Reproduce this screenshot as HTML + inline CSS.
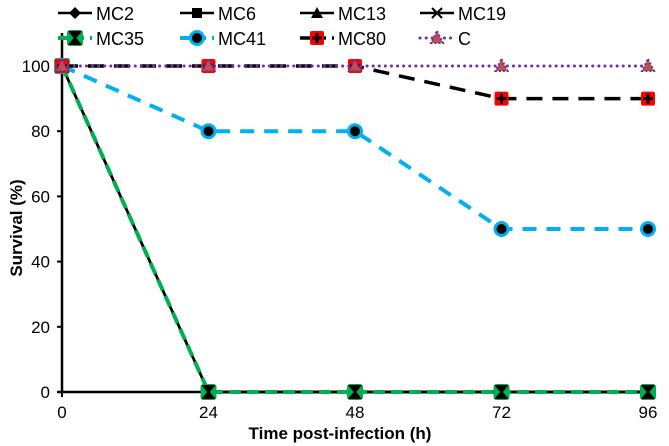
<!DOCTYPE html>
<html><head><meta charset="utf-8"><style>
html,body{margin:0;padding:0;background:#fff;}
svg{display:block;font-family:"Liberation Sans",Arial,sans-serif;}
</style></head><body>
<svg id="chart" width="669" height="446" viewBox="0 0 669 446"></svg>
<script>
const hours = [0, 24, 48, 72, 96];
const yTicks = [0, 20, 40, 60, 80, 100];
const mc2 = [100, 0, 0, 0, 0];
const mc6 = [100, 0, 0, 0, 0];
const mc13 = [100, 0, 0, 0, 0];
const mc19 = [100, 0, 0, 0, 0];
const mc35 = [100, 0, 0, 0, 0];
const mc41 = [100, 80, 80, 50, 50];
const mc80 = [100, 100, 100, 90, 90];
const ctrl = [100, 100, 100, 100, 100];

const NS = "http://www.w3.org/2000/svg";
const svg = document.getElementById("chart");
const X0 = 62, X1 = 648, Y0 = 392, Y100 = 66;
const xs = h => X0 + (X1 - X0) * h / 96;
const ys = v => Y0 - (Y0 - Y100) * v / 100;
function mk(tag, attrs, parent) {
  const e = document.createElementNS(NS, tag);
  for (const k in attrs) e.setAttribute(k, attrs[k]);
  (parent || svg).appendChild(e);
  return e;
}
function txt(x, y, s, attrs, parent) {
  const t = mk("text", Object.assign({x: x, y: y, "font-size": 18, fill: "#000", transform: ""}, attrs || {}), parent);
  t.textContent = s;
  return t;
}
const axY = mk("line", {x1: X0, y1: 33, x2: X0, y2: Y0 + 1, stroke: "#000", "stroke-width": 2.5});


const axX = mk("line", {x1: X0 - 5, y1: Y0, x2: X1 + 2, y2: Y0, stroke: "#000", "stroke-width": 2.5});


yTicks.forEach(v => {
  mk("line", {x1: X0 - 5, y1: ys(v), x2: X0, y2: ys(v), stroke: "#000", "stroke-width": 2});
  const t = txt(50, ys(v) + 6, String(v), {"text-anchor": "end", "font-size": 17});
  
  
});
hours.forEach(h => {
  mk("line", {x1: xs(h), y1: Y0, x2: xs(h), y2: Y0 + 5, stroke: "#000", "stroke-width": 2});
  const t = txt(xs(h), 418, String(h), {"text-anchor": "middle", "font-size": 17});
  
  
});
const xt = txt(340, 439, "Time post-infection (h)", {"text-anchor": "middle", "font-weight": "bold", "font-size": 17});


const yt = txt(0, 0, "Survival (%)", {"text-anchor": "middle", "font-weight": "bold", "font-size": 17, transform: "translate(22,228) rotate(-90)"});



function marker(kind, x, y, g) {
  if (kind === "diamond") mk("path", {d: `M${x} ${y-6}L${x+6} ${y}L${x} ${y+6}L${x-6} ${y}Z`, fill: "#000"}, g);
  else if (kind === "square") mk("rect", {x: x-5, y: y-5, width: 10, height: 10, fill: "#000"}, g);
  else if (kind === "tri") mk("path", {d: `M${x} ${y-6}L${x+6} ${y+5}L${x-6} ${y+5}Z`, fill: "#000"}, g);
  else if (kind === "x") mk("path", {d: `M${x-5} ${y-5}L${x+5} ${y+5}M${x+5} ${y-5}L${x-5} ${y+5}`, stroke: "#000", "stroke-width": 2}, g);
  else if (kind === "green") {
    mk("rect", {x: x-8, y: y-8, width: 16, height: 16, rx: 3, fill: "#00b050"}, g);
    mk("path", {d: `M${x-5} ${y-6}L${x+5} ${y-6}L${x} ${y}Z M${x-5} ${y+6}L${x+5} ${y+6}L${x} ${y}Z`, fill: "#000", stroke: "#000", "stroke-width": 2}, g);
  } else if (kind === "blue") {
    mk("circle", {cx: x, cy: y, r: 8, fill: "#00b0f0"}, g);
    mk("circle", {cx: x, cy: y, r: 5, fill: "#000"}, g);
  } else if (kind === "red") {
    mk("rect", {x: x-7, y: y-7, width: 14, height: 14, rx: 2, fill: "#ff0000"}, g);
    mk("path", {d: `M${x-5} ${y}L${x+5} ${y}M${x} ${y-5}L${x} ${y+5}`, stroke: "#000", "stroke-width": 3}, g);
  } else if (kind === "purple") {
    mk("path", {d: `M${x} ${y-7}L${x+6} ${y+5}L${x-6} ${y+5}Z`, fill: "#c0504d", stroke: "#7030a0", "stroke-width": 2, "stroke-dasharray": "2 2"}, g);
  }
}
const series = [
  {name: "MC2", data: mc2, color: "#000", w: 2.5, dash: "", m: "diamond"},
  {name: "MC6", data: mc6, color: "#000", w: 2.5, dash: "", m: "square"},
  {name: "MC13", data: mc13, color: "#000", w: 2.5, dash: "", m: "tri"},
  {name: "MC19", data: mc19, color: "#000", w: 2.5, dash: "", m: "x"},
  {name: "MC35", data: mc35, color: "#00b050", w: 4, dash: "12 6", m: "green"},
  {name: "MC41", data: mc41, color: "#00b0f0", w: 4, dash: "14 10", m: "blue"},
  {name: "MC80", data: mc80, color: "#000", w: 3.5, dash: "16 10", m: "red"},
  {name: "C", data: ctrl, color: "#7030a0", w: 3, dash: "0.1 6", m: "purple"}
];
series.forEach(s => {
  const g = mk("g", {});
  
  
  const pts = s.data.map((v, i) => xs(hours[i]) + "," + ys(v)).join(" ");
  const pl = mk("polyline", {points: pts, fill: "none", stroke: s.color, "stroke-width": s.w, "stroke-linecap": s.name === "C" ? "round" : "butt"}, g);
  if (s.dash) pl.setAttribute("stroke-dasharray", s.dash);
  s.data.forEach((v, i) => marker(s.m, xs(hours[i]), ys(v), g));
});
const legendX = [58, 180, 300, 420];
series.forEach((s, i) => {
  const col = i % 4, row = Math.floor(i / 4);
  const lx = legendX[col], ly = row === 0 ? 13 : 38;
  const g = mk("g", {});
  
  
  const ln = mk("line", {x1: lx, y1: ly, x2: lx + 34, y2: ly, stroke: s.color, "stroke-width": s.w, "stroke-linecap": s.name === "C" ? "round" : "butt"}, g);
  if (s.dash) ln.setAttribute("stroke-dasharray", s.name === "C" ? "0.1 6" : "10 6");
  marker(s.m, lx + 17, ly, g);
  txt(lx + 38, ly + 7, s.name, {"font-size": 18}, g);
});
</script>
</body></html>
